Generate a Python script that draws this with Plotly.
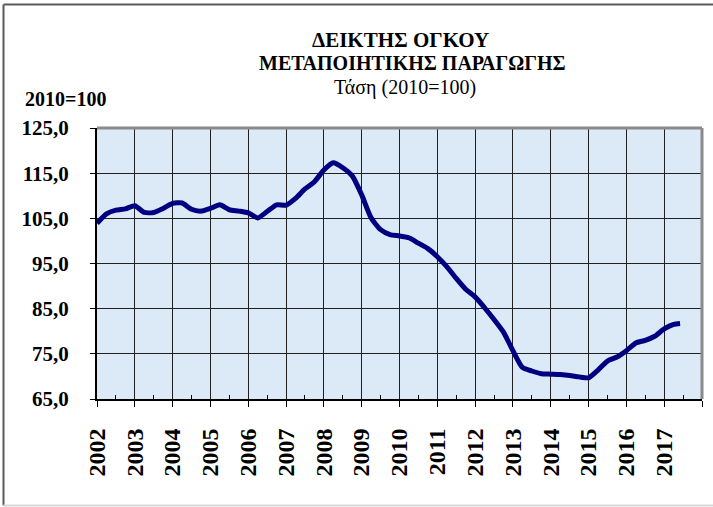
import plotly.graph_objects as go

# ---- data (quarterly readings of the trend index, 2010=100) ----
time_pos = [
    2002.00, 2002.25, 2002.50, 2002.75, 2003.00, 2003.25, 2003.50, 2003.75,
    2004.00, 2004.25, 2004.50, 2004.75, 2005.00, 2005.25, 2005.50, 2005.75,
    2006.00, 2006.25, 2006.50, 2006.75, 2007.00, 2007.25, 2007.50, 2007.75,
    2008.00, 2008.25, 2008.50, 2008.75, 2009.00, 2009.25, 2009.50, 2009.75,
    2010.00, 2010.25, 2010.50, 2010.75, 2011.00, 2011.25, 2011.50, 2011.75,
    2012.00, 2012.25, 2012.50, 2012.75, 2013.00, 2013.25, 2013.50, 2013.75,
    2014.00, 2014.25, 2014.50, 2014.75, 2015.00, 2015.25, 2015.50, 2015.75,
    2016.00, 2016.25, 2016.50, 2016.75, 2017.00, 2017.25, 2017.42,
]
index_values = [
    103.9, 106.0, 106.8, 107.1, 107.8, 106.3, 106.3, 107.2,
    108.3, 108.4, 107.0, 106.6, 107.2, 108.0, 106.9, 106.6,
    106.2, 105.1, 106.5, 108.0, 107.9, 109.4, 111.5, 113.1,
    115.7, 117.3, 116.2, 114.4, 110.2, 105.1, 102.5, 101.4,
    101.1, 100.7, 99.5, 98.3, 96.5, 94.3, 91.7, 89.3,
    87.6, 85.2, 82.6, 79.8, 75.7, 72.0, 71.2, 70.6,
    70.5, 70.4, 70.2, 69.9, 69.7, 71.4, 73.4, 74.3,
    75.7, 77.4, 78.0, 78.9, 80.5, 81.5, 81.7,
]
year_ticks = list(range(2002, 2019))
year_labels = [str(y) for y in range(2002, 2018)] + [""]
y_ticks = [65, 75, 85, 95, 105, 115, 125]
y_labels = ["65,0", "75,0", "85,0", "95,0", "105,0", "115,0", "125,0"]

title_line1 = "ΔΕΙΚΤΗΣ ΟΓΚΟΥ"
title_line2 = "ΜΕΤΑΠΟΙΗΤΙΚΗΣ ΠΑΡΑΓΩΓΗΣ"
subtitle = "Τάση (2010=100)"
unit_label = "2010=100"

FONT = "Liberation Serif"
W, H = 713, 507
L, R, T, B = 97, 11, 128, 108
PW, PH = W - L - R, H - T - B


def px(xp):
    return (xp - L) / PW


def py(yp):
    return (H - B - yp) / PH


fig = go.Figure()
fig.add_trace(go.Scatter(
    x=time_pos, y=index_values, mode="lines",
    line=dict(color="#000080", width=5, shape="spline", smoothing=0.6),
    hoverinfo="skip", showlegend=False,
))

fig.update_layout(
    width=W, height=H,
    margin=dict(l=L, r=R, t=T, b=B, autoexpand=False),
    paper_bgcolor="white",
    plot_bgcolor="#dce9f7",
    font=dict(family=FONT, color="black"),
    showlegend=False,
    xaxis=dict(
        range=[2002, 2018], tickmode="array", tickvals=year_ticks, ticktext=year_labels,
        tickangle=-90, tickfont=dict(size=24, family=FONT, color="black", weight="bold"),
        ticklabelstandoff=12,
        showgrid=True, gridcolor="#202020", gridwidth=1,
        showline=True, linecolor="black", linewidth=2,
        ticks="outside", ticklen=6, tickcolor="black",
        minor=dict(tickmode="linear", tick0=2002.5, dtick=1, ticks="inside", ticklen=4,
                   tickcolor="black", showgrid=False),
        zeroline=False, fixedrange=True,
    ),
    yaxis=dict(
        range=[65, 125], tickmode="array", tickvals=y_ticks, ticktext=y_labels,
        tickfont=dict(size=21, family=FONT, color="black", weight="bold"),
        ticklabelstandoff=17,
        showgrid=True, gridcolor="#202020", gridwidth=1,
        showline=True, linecolor="black", linewidth=2,
        ticks="outside", ticklen=5, tickcolor="black",
        zeroline=False, fixedrange=True,
    ),
)

shapes = [
    # plot-area top and right border (grey)
    dict(type="line", xref="paper", yref="paper", x0=0, x1=1, y0=1, y1=1,
         line=dict(color="#8a8a8a", width=3)),
    dict(type="line", xref="paper", yref="paper", x0=1, x1=1, y0=0, y1=1,
         line=dict(color="#8a8a8a", width=3)),
    # outer chart frame
    dict(type="line", xref="paper", yref="paper", x0=px(3.5), x1=px(713), y0=py(4.5), y1=py(4.5),
         line=dict(color="#5a5a5a", width=2)),
    dict(type="line", xref="paper", yref="paper", x0=px(3.5), x1=px(3.5), y0=py(4.5), y1=py(505.5),
         line=dict(color="#5a5a5a", width=2)),
    dict(type="line", xref="paper", yref="paper", x0=px(3.5), x1=px(713), y0=py(505.5), y1=py(505.5),
         line=dict(color="#d8d8d8", width=2)),
]
fig.update_layout(shapes=shapes)

ann = [
    dict(text="<b>" + title_line1 + "</b>", x=px(400), y=py(40), size=21),
    dict(text="<b>" + title_line2 + "</b>", x=px(412), y=py(63), size=20),
    dict(text=subtitle, x=px(405), y=py(87), size=20),
    dict(text="<b>" + unit_label + "</b>", x=px(65), y=py(99), size=20),
]
for a in ann:
    fig.add_annotation(text=a["text"], x=a["x"], y=a["y"], xref="paper", yref="paper",
                       showarrow=False, xanchor="center", yanchor="middle",
                       font=dict(family=FONT, size=a["size"], color="black"))

fig.write_html("out.html", config={"displayModeBar": False},
               post_script="document.body.style.margin='0px';")
